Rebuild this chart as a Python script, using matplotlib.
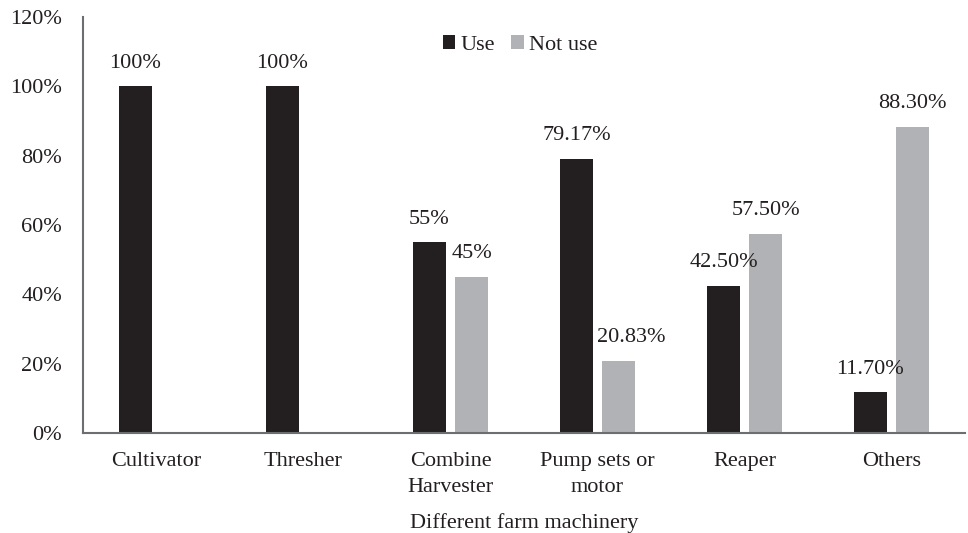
import matplotlib
matplotlib.use("Agg")
import matplotlib.pyplot as plt
import numpy as np

categories = ["Cultivator", "Thresher", "Combine\nHarvester", "Pump sets or\nmotor", "Reaper", "Others"]
use_vals = [100, 100, 55, 79.17, 42.50, 11.70]
notuse_vals = [0, 0, 45, 20.83, 57.50, 88.30]
use_labels = ["100%", "100%", "55%", "79.17%", "42.50%", "11.70%"]
notuse_labels = ["", "", "45%", "20.83%", "57.50%", "88.30%"]
yticks = [0, 20, 40, 60, 80, 100, 120]

# label horizontal nudges in pixels (style, not data)
use_dx = [0, 0, 0, 0, 0, 0]
notuse_dx = [0, 0, 0, 13, 0, 0]

plt.rcParams['font.family'] = ['Liberation Serif', 'DejaVu Serif']

fig = plt.figure(figsize=(9.68, 5.33), dpi=100)
ax = fig.add_axes([83/968, 1 - 433/533, (965-83)/968, (433-17)/533])

x = np.arange(len(categories))
w = 0.225
off = 0.143
c_use = "#231f20"
c_not = "#b1b2b5"
tc = "#231f20"
ax.bar(x - off, use_vals, w, color=c_use, label="Use")
ax.bar(x + off, notuse_vals, w, color=c_not, label="Not use")

fs = 16
for xi, v, lab, dx in zip(x - off, use_vals, use_labels, use_dx):
    if lab:
        ax.annotate(lab, (xi, v), xytext=(dx, 23), textcoords="offset pixels",
                    ha="center", va="center", fontsize=fs, color=tc)
for xi, v, lab, dx in zip(x + off, notuse_vals, notuse_labels, notuse_dx):
    if lab:
        ax.annotate(lab, (xi, v), xytext=(dx, 23), textcoords="offset pixels",
                    ha="center", va="center", fontsize=fs, color=tc)

ax.set_xlim(-0.5, len(categories) - 0.5)
ax.set_ylim(0, 120)
ax.set_yticks(yticks)
ax.set_yticklabels([f"{t}%" for t in yticks], fontsize=fs, color=tc)
ax.set_xticks(x)
ax.set_xticklabels(categories, fontsize=fs, color=tc, linespacing=1.45)
ax.tick_params(axis="x", length=0, pad=14)
ax.tick_params(axis="y", length=0, pad=15)
for s in ["top", "right"]:
    ax.spines[s].set_visible(False)
for s in ["left", "bottom"]:
    ax.spines[s].set_color("#6d6e71")
    ax.spines[s].set_linewidth(1.5)

ax.set_xlabel("Different farm machinery", fontsize=fs, color=tc, labelpad=12)

ax.legend(loc="center", bbox_to_anchor=((520-83)/882, (433-45)/416), ncol=2, frameon=False,
          fontsize=fs, handlelength=0.55, handleheight=0.55, handletextpad=0.23,
          columnspacing=0.75, labelcolor=tc)

fig.savefig("out.png", dpi=100)
